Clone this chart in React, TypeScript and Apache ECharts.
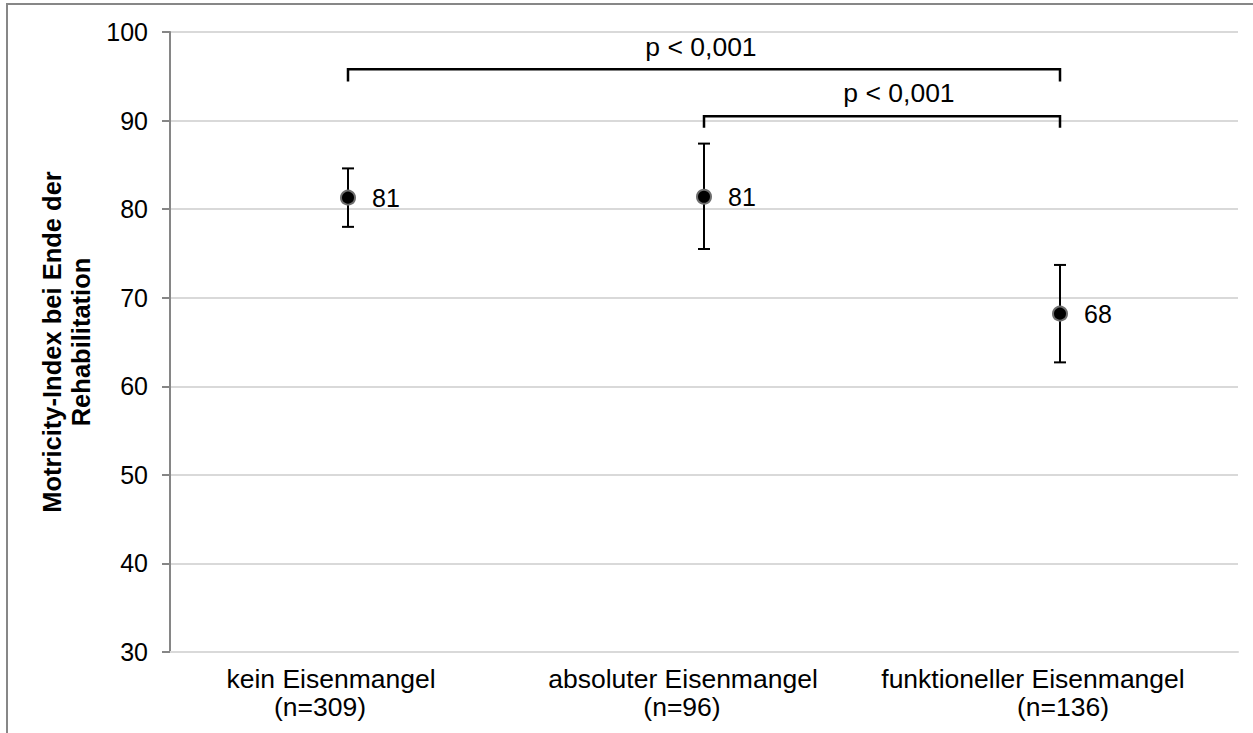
import React, { useEffect, useRef } from "react";
import * as echarts from "echarts";

const categories = ["kein Eisenmangel", "absoluter Eisenmangel", "funktioneller Eisenmangel"];
const sampleSizes = ["(n=309)", "(n=96)", "(n=136)"];
const means = [81.3, 81.4, 68.2];
const lower = [78.0, 75.5, 62.7];
const upper = [84.6, 87.4, 73.7];
const yTicks = [30, 40, 50, 60, 70, 80, 90, 100];

const bracketFrom = [0, 1];
const bracketTo = [2, 2];
const bracketLevel = [95.8, 90.5];
const bracketTickEnd = [94.4, 89.2];
const bracketLabelLevel = [98.3, 93.1];
const bracketLabels = ["p < 0,001", "p < 0,001"];

const FONT = "'Liberation Sans', Arial, sans-serif";

export default function App() {
  const ref = useRef<HTMLDivElement>(null);
  useEffect(() => {
    if (!ref.current) return;
    const chart = echarts.init(ref.current, undefined, { renderer: "svg" });

    const rich: Record<string, any> = {};
    const line1Pad = [[0, 34, 0, 0], [0, 42, 0, 0], [0, 54, 0, 0]];
    const line2Pad = [[0, 56, 0, 0], [0, 44, 0, 0], [0, 0, 0, 6]];
    categories.forEach((_, i) => {
      rich["a" + i] = { fontSize: 26.5, lineHeight: 28, color: "#000", fontFamily: FONT, padding: line1Pad[i] };
      rich["b" + i] = { fontSize: 26.5, lineHeight: 28, color: "#000", fontFamily: FONT, padding: line2Pad[i] };
    });

    const option: any = {
      animation: false,
      backgroundColor: "#fff",
      textStyle: { fontFamily: FONT },
      graphic: [
        {
          type: "rect",
          shape: { x: 7, y: 4, width: 1260, height: 750 },
          style: { fill: "none", stroke: "#878787", lineWidth: 2 },
          silent: true,
        },
      ],
      grid: { left: 170, right: 15, top: 32, bottom: 81 },
      xAxis: {
        type: "category",
        data: categories,
        boundaryGap: true,
        axisLine: { show: true, lineStyle: { color: "#d9d9d9", width: 2 } },
        axisTick: { show: false },
        axisLabel: {
          interval: 0,
          margin: 13,
          formatter: (v: string, i: number) => `{a${i}|${v}}\n{b${i}|${sampleSizes[i]}}`,
          rich,
        },
        splitLine: { show: false },
      },
      yAxis: {
        type: "value",
        min: yTicks[0],
        max: yTicks[yTicks.length - 1],
        interval: 10,
        name: "Motricity-Index bei Ende der\nRehabilitation",
        nameLocation: "middle",
        nameRotate: 90,
        nameGap: 72,
        nameTextStyle: { fontSize: 25.5, fontWeight: "bold", color: "#000", lineHeight: 29, fontFamily: FONT },
        axisLine: { show: true, lineStyle: { color: "#868686", width: 2 } },
        axisTick: { show: true, length: 8, inside: false, lineStyle: { color: "#868686", width: 2 } },
        axisLabel: { fontSize: 25, color: "#000", margin: 22, fontFamily: FONT },
        splitLine: { show: true, lineStyle: { color: "#d9d9d9", width: 2 } },
      },
      series: [
        {
          type: "custom",
          name: "errors",
          clip: false,
          z: 2,
          data: categories.map((_, i) => [i, lower[i], upper[i]]),
          renderItem: (params: any, api: any) => {
            const x = api.value(0);
            const top = api.coord([x, api.value(2)]);
            const bot = api.coord([x, api.value(1)]);
            const hw = 6;
            const style = { stroke: "#000", lineWidth: 2 };
            return {
              type: "group",
              children: [
                { type: "line", shape: { x1: top[0], y1: top[1], x2: bot[0], y2: bot[1] }, style },
                { type: "line", shape: { x1: top[0] - hw, y1: top[1], x2: top[0] + hw, y2: top[1] }, style },
                { type: "line", shape: { x1: bot[0] - hw, y1: bot[1], x2: bot[0] + hw, y2: bot[1] }, style },
              ],
            };
          },
        },
        {
          type: "scatter",
          name: "means",
          z: 3,
          data: means.map((m, i) => [i, m]),
          symbol: "circle",
          symbolSize: 14,
          itemStyle: { color: "#000", borderColor: "#6e6e6e", borderWidth: 2, opacity: 1 },
          label: {
            show: true,
            position: "right",
            distance: 16,
            fontSize: 25,
            color: "#000",
            fontFamily: FONT,
            formatter: (p: any) => String(Math.round(p.value[1])),
          },
        },
        {
          type: "custom",
          name: "brackets",
          clip: false,
          z: 4,
          data: bracketFrom.map((f, i) => [f, bracketTo[i], bracketLevel[i], bracketTickEnd[i], bracketLabelLevel[i], i]),
          renderItem: (params: any, api: any) => {
            const f = api.value(0);
            const t = api.value(1);
            const idx = api.value(5);
            const a = api.coord([f, api.value(2)]);
            const b = api.coord([t, api.value(2)]);
            const tickY = api.coord([f, api.value(3)])[1];
            const labY = api.coord([f, api.value(4)])[1];
            const style = { stroke: "#000", lineWidth: 2.5, fill: "none" };
            const dx = idx === 1 ? 17 : -3;
            return {
              type: "group",
              children: [
                {
                  type: "polyline",
                  shape: { points: [[a[0], tickY], [a[0], a[1]], [b[0], b[1]], [b[0], tickY]] },
                  style,
                },
                {
                  type: "text",
                  style: {
                    x: (a[0] + b[0]) / 2 + dx,
                    y: labY,
                    text: bracketLabels[idx],
                    fontSize: 26.5,
                    fontFamily: FONT,
                    fill: "#000",
                    align: "center",
                    verticalAlign: "middle",
                  },
                },
              ],
            };
          },
        },
      ],
    };
    chart.setOption(option);
    return () => chart.dispose();
  }, []);
  return (
    <div
      ref={ref}
      style={{ position: "fixed", left: 0, top: 0, width: 1253, height: 733 }}
    />
  );
}
